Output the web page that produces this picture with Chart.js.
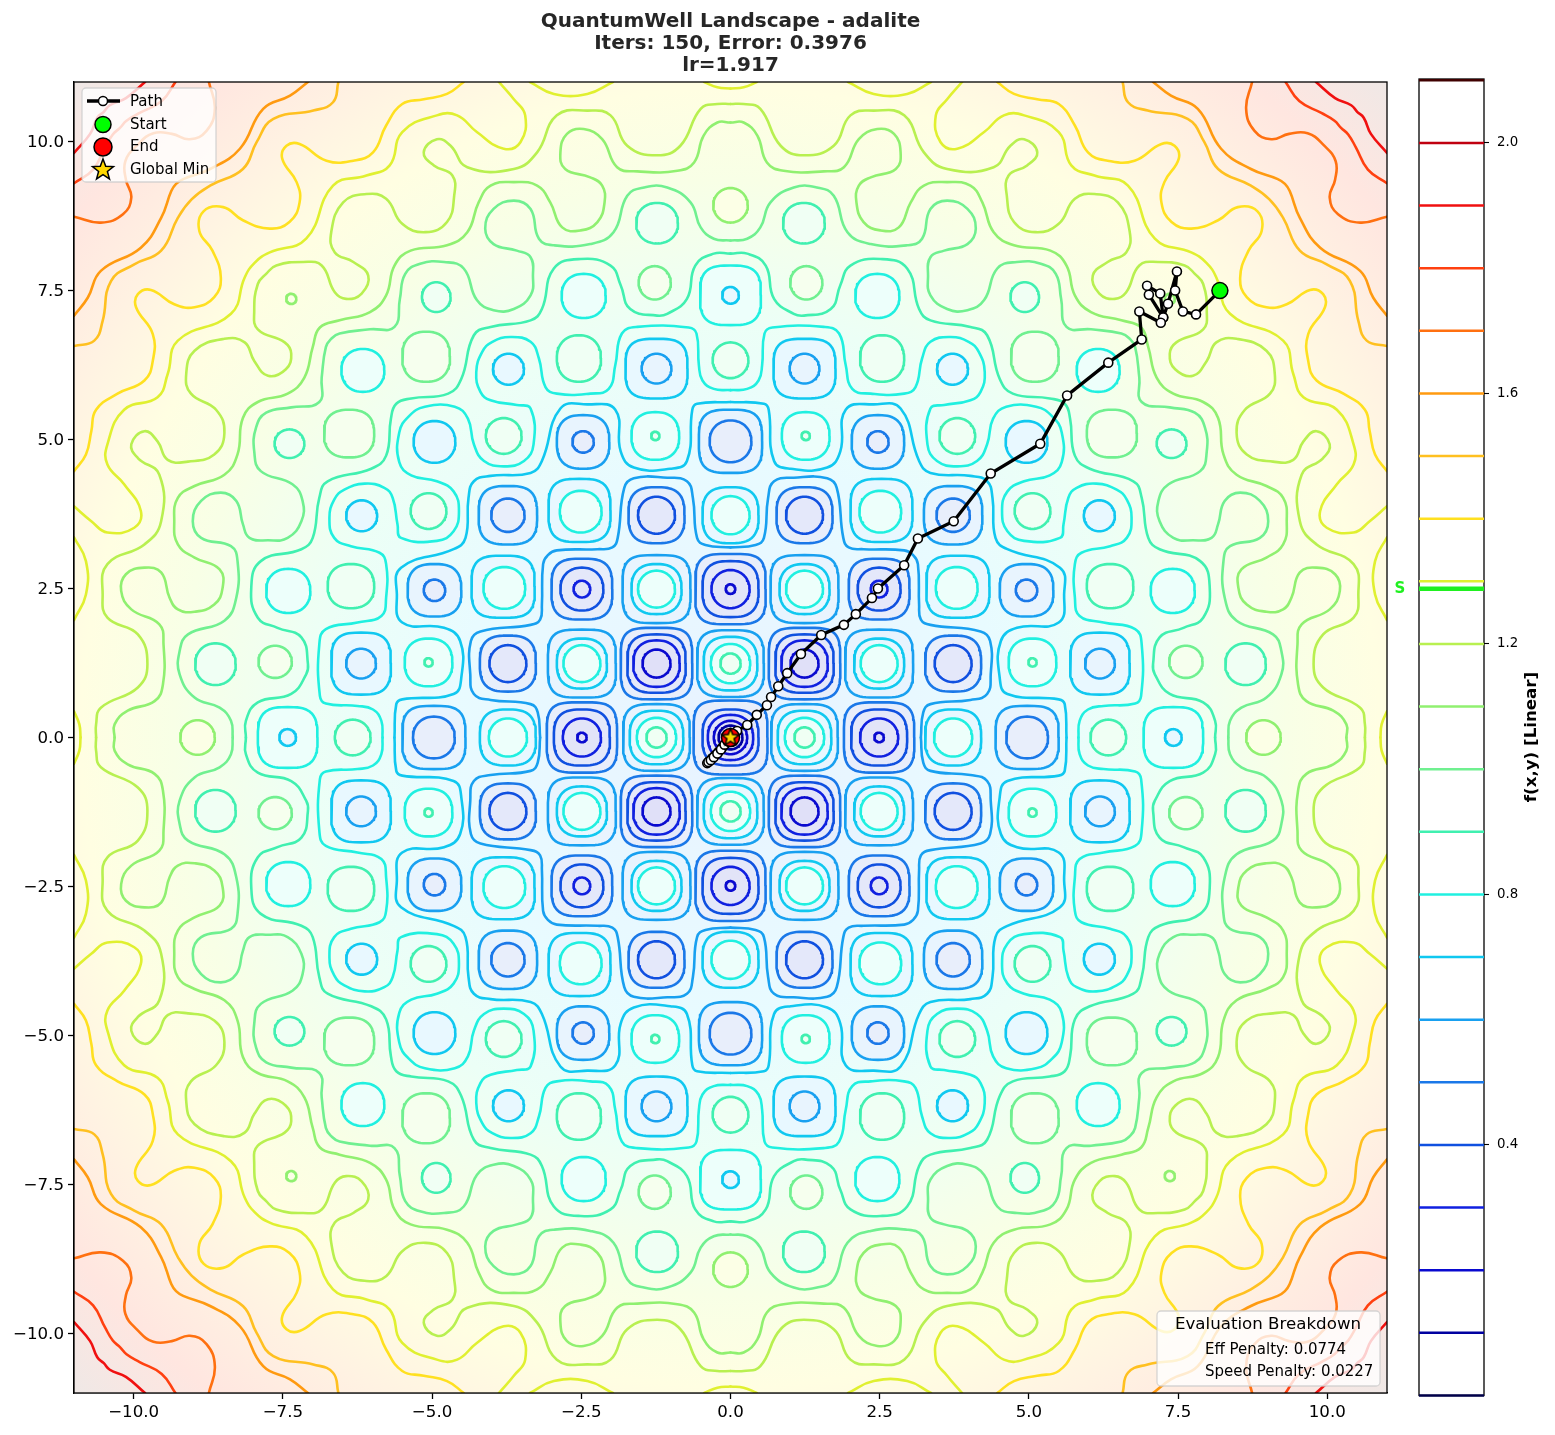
<!DOCTYPE html>
<html>
<head>
<meta charset="utf-8">
<title>QuantumWell Landscape</title>
<script src="https://cdn.jsdelivr.net/npm/chart.js@4/dist/chart.umd.min.js"></script>
<style>
	html, body { margin: 0; padding: 0; background: #fff; }
	#main { position: absolute; left: 0; top: 0; }
	#bar { position: absolute; left: 1390px; top: 0; }
</style>
</head>
<body>
<canvas id="main" width="1555" height="1435"></canvas>
<canvas id="bar" width="165" height="1435"></canvas>
<script>
// contour levels, colour per level (index = level * 10)
const levels = [0, 0.1, 0.2, 0.3, 0.4, 0.5, 0.6, 0.7, 0.8, 0.9, 1.0, 1.1, 1.2, 1.3, 1.4, 1.5, 1.6, 1.7, 1.8, 1.9, 2.0, 2.1];
const levelColors = ['#00004a', '#0000a0', '#0a0acf', '#1020e0', '#1050e0', '#1a78e8', '#18a0f0', '#10c8f0', '#20f0e0', '#40f0b0', '#70f090', '#90f070', '#b8f050', '#e0f030', '#ffe020', '#ffc020', '#ff9a10', '#ff7010', '#ff4010', '#f01010', '#c00010', '#400000'];
const levelTints = ['#dcdcf8', '#dcdcf8', '#e0e0f8', '#e2e4f8', '#e4e8fa', '#e8eefb', '#e8f4fe', '#e8f8ff', '#edfffb', '#f0fff4', '#f6ffee', '#fcffe6'];
const barTicks = [0.4, 0.8, 1.2, 1.6, 2.0];
const startValue = 1.288;

const axisTicks = [-10, -7.5, -5, -2.5, 0, 2.5, 5, 7.5, 10];

// closed cells: [cx, cy, half width, half height, level]
const ringCells = [
	[0, 0, .62, .62, .5], [0, 0, .47, .47, .4], [0, 0, .38, .38, .3], [0, 0, .28, .28, .2], [0, 0, .2, .2, .1],
	[1.24, 0, .56, .56, .6], [1.24, 0, .45, .45, .7], [1.24, 0, .33, .33, .8], [1.24, 0, .17, .17, .9],
	[2.49, 0, .59, .59, .5], [2.49, 0, .47, .47, .4], [2.49, 0, .32, .32, .3], [2.49, 0, .08, .08, .2],
	[3.73, 0, .47, .47, .7], [3.73, 0, .32, .32, .8],
	[4.97, 0, .53, .53, .6], [4.97, 0, .35, .35, .5],
	[6.33, 0, .3, .3, .9],
	[7.42, 0, .5, .51, .8], [7.42, 0, .14, .14, .7],
	[8.93, 0, .29, .29, 1.1],
	[1.24, 1.24, .6, .6, .5], [1.24, 1.24, .49, .49, .4], [1.24, 1.24, .39, .39, .3], [1.24, 1.24, .235, .235, .2],
	[2.49, 1.24, .57, .57, .6], [2.49, 1.24, .42, .42, .7], [2.49, 1.24, .31, .31, .8],
	[3.73, 1.24, .47, .47, .5], [3.73, 1.24, .31, .31, .4],
	[5.06, 1.26, .4, .4, .8], [5.06, 1.26, .07, .07, .9],
	[6.19, 1.24, .5, .52, .7], [6.19, 1.24, .25, .25, .6],
	[7.63, 1.27, .28, .27, 1.0],
	[8.63, 1.23, .34, .35, .9],
	[2.49, 2.49, .51, .51, .5], [2.49, 2.49, .36, .36, .4], [2.49, 2.49, .14, .14, .3],
	[3.81, 2.53, .53, .52, .7], [3.79, 2.51, .35, .35, .8],
	[4.96, 2.47, .45, .44, .6], [4.96, 2.47, .18, .18, .5],
	[6.36, 2.54, .39, .37, .9],
	[7.41, 2.46, .37, .37, .8],
	[3.73, 3.73, .49, .49, .6], [3.73, 3.73, .28, .28, .5],
	[5.06, 3.8, .3, .3, .9],
	[6.18, 3.72, .26, .26, .7],
	[4.96, 4.96, .35, .35, .7],
	[6.39, 5.1, .42, .4, 1.0],
	[7.39, 4.93, .25, .24, .9],
	[6.16, 6.16, .36, .36, .8],
	[7.36, 7.36, .085, .085, 1.1]
];

// wandering contours, x-axis (or frame) to the diagonal
const line06 = [[3.19,0],[3.23,.42],[3.35,.56],[4.02,.63],[4.3,.73],[4.36,1.06],[4.35,1.62],[4.19,1.78],[3.35,1.89],[3.19,1.98],[3.16,2.23],[3.14,2.91],[3.06,3.06]];
const line07 = [[5.63,0],[5.6,.56],[5.5,.64],[4.64,.73],[4.51,1.01],[4.53,1.62],[4.8,1.84],[5.5,1.93],[5.59,2.4],[5.52,2.85],[4.64,3.16],[4.44,3.35],[4.39,4.02],[4.3,4.3]];
const line08 = [[5.83,0],[5.85,.28],[5.99,.47],[6.25,.53],[6.78,.57],[6.88,.7],[6.89,1.56],[6.78,1.82],[6.25,1.93],[5.85,2.04],[5.77,2.35],[5.77,2.91],[5.88,3.1],[6.36,3.21],[6.64,3.35],[6.72,3.69],[6.64,3.99],[6.47,4.16],[6.13,4.26],[5.8,4.19],[5.66,4.02],[5.58,3.58],[5.52,3.35],[4.92,3.3],[4.64,3.46],[4.55,3.8],[4.64,4.13],[4.92,4.3],[5.35,4.4],[5.55,4.62],[5.55,5.12],[5.39,5.39]];
const line09 = [[8.12,0],[8.12,.28],[7.92,.59],[7.36,.73],[7.11,1.06],[7.08,1.23],[7.19,1.68],[7.59,1.84],[7.92,2.01],[8.03,2.51],[7.87,2.96],[7.19,3.16],[7,3.35],[6.89,4.02],[6.75,4.3],[6.02,4.51],[5.77,4.73],[5.69,5.35],[5.6,5.6]];
const line10 = [[8.34,0],[8.37,.28],[8.56,.5],[8.98,.67],[9.23,1.06],[9.23,1.45],[9.09,1.73],[8.48,1.96],[8.28,2.35],[8.26,2.96],[8.37,3.21],[8.87,3.35],[9.01,3.63],[8.87,3.97],[8.54,4.11],[8.28,3.97],[8.17,3.58],[8.06,3.35],[7.75,3.31],[7.42,3.35],[7.19,3.63],[7.17,3.97],[7.34,4.25],[7.87,4.47],[7.98,4.8],[7.95,5.2],[7.78,5.45],[7.36,5.54],[6.89,5.63],[6.85,6.04],[6.78,6.55],[6.69,6.69]];
const line11 = [[10.32,0],[10.32,.22],[10.1,.45],[9.65,.61],[9.51,.89],[9.5,1.56],[9.57,1.9],[10.04,2.15],[10.21,2.46],[10.13,2.74],[9.82,2.85],[9.54,2.77],[9.4,2.35],[9.26,2.15],[8.98,2.11],[8.65,2.23],[8.51,2.51],[8.56,2.82],[8.98,3.02],[9.26,3.24],[9.32,3.63],[9.26,4.02],[8.98,4.22],[8.48,4.41],[8.26,4.75],[8.17,5.36],[7.92,5.63],[7.42,5.77],[7.14,6.04],[7,6.55],[6.88,6.88]];
const line12 = [[10.63,0],[10.63,.22],[10.55,.5],[9.93,.84],[9.77,1.23],[9.93,1.73],[10.44,2.01],[10.52,2.4],[10.44,2.91],[9.82,3.24],[9.54,3.63],[9.57,4.41],[9.93,4.69],[10.04,4.92],[9.82,5.14],[9.6,4.97],[9.43,4.66],[9.09,4.63],[8.65,4.75],[8.48,5.11],[8.62,5.5],[9.04,5.77],[9.12,6.1],[8.98,6.49],[8.48,6.69],[8.14,6.63],[7.98,6.32],[7.75,6.07],[7.45,6.18],[7.36,6.44],[7.47,6.63],[7.92,6.85],[7.98,7.16],[7.92,7.61],[7.78,7.78]];
const line13 = [[11,3.88],[10.71,3.63],[10.44,3.44],[9.99,3.52],[9.88,3.8],[10.16,4.25],[10.44,4.58],[10.44,4.92],[10.16,5.5],[9.6,5.71],[9.43,6.1],[9.26,6.66],[8.37,7.11],[8.14,7.72],[7.97,7.97]];
const line14 = [[11,4.47],[10.8,4.75],[10.71,5.14],[10.63,5.5],[10.27,5.77],[9.82,5.99],[9.68,6.32],[9.68,6.77],[9.96,7.22],[9.93,7.44],[9.71,7.51],[9.32,7.27],[8.98,7.22],[8.65,7.39],[8.54,7.72],[8.68,8.17],[8.9,8.5],[8.83,8.83]];
const line15 = [[11,6.57],[10.66,6.66],[10.52,6.99],[10.38,7.66],[9.99,7.94],[9.54,8.17],[9.26,8.72],[9.03,9.03]];
const line16 = [[11,7.08],[10.77,7.38],[10.55,7.83],[9.88,8.22],[9.54,8.72],[9.37,9.17],[9.29,9.29]];
const line17 = [[11,8.74],[10.55,8.64],[10.18,8.78],[10.04,9.06],[10.13,9.36],[10.14,9.67],[9.94,9.94]];
const line18 = [[11,9.3],[10.68,9.53],[10.48,9.9],[10.35,10.12],[10.23,10.23]];
const line19 = [[11,9.81],[10.73,10.13],[10.61,10.4],[10.5,10.5]];
const wanderingLines = [[.6, line06], [.7, line07], [.8, line08], [.9, line09], [1.0, line10], [1.1, line11], [1.2, line12], [1.3, line13], [1.4, line14], [1.5, line15], [1.6, line16], [1.7, line17], [1.8, line18], [1.9, line19]];

// short arcs that enter and leave through the frame, level 1.3
const edgeArc1 = [[10.89,0],[10.91,.22],[11,.44]];
const edgeArc2 = [[11,1.97],[10.8,2.4],[10.8,2.96],[11,3.36]];

// optimizer path
const pathX = [8.2, 7.8, 7.58, 7.45, 7.48, 7.33, 7.25, 7.01, 6.98, 7.2, 7.25, 7.21, 6.85, 6.89, 6.33, 5.64, 5.19, 4.36, 3.74, 3.14, 2.91, 2.47, 2.37, 2.1, 1.9, 1.52, 1.18, .95, .8, .68, .61, .44, .28, .11, -.03, -.08, -.14, -.2, -.26, -.31, -.36, -.39, -.37, -.33, -.28, -.22, -.16, -.1, -.05, 0];
const pathY = [7.5, 7.1, 7.15, 7.5, 7.82, 7.28, 7.05, 7.43, 7.58, 7.45, 7.05, 6.96, 7.15, 6.68, 6.29, 5.74, 4.93, 4.43, 3.63, 3.34, 2.89, 2.5, 2.34, 2.07, 1.89, 1.72, 1.4, 1.08, .86, .68, .54, .38, .21, .11, -.05, -.1, -.17, -.24, -.3, -.35, -.4, -.43, -.41, -.38, -.33, -.27, -.2, -.12, -.06, 0];

const titleLines = ['QuantumWell Landscape - adalite', 'Iters: 150, Error: 0.3976', 'lr=1.917'];
const legendLabels = ['Path', 'Start', 'End', 'Global Min'];
const evalTitle = 'Evaluation Breakdown';
const evalLines = ['Eff Penalty: 0.0774', 'Speed Penalty: 0.0227'];

Chart.defaults.font.family = "'DejaVu Sans', sans-serif";
Chart.defaults.color = '#000';

function colorOf(level) { return levelColors[Math.round(level * 10)]; }
function tintOf(level) { return levelTints[Math.round(level * 10)]; }

function toPoints(list) { return list.map(p => ({ x: p[0], y: p[1] })); }

function flipDiagonal(list) { return list.map(p => [p[1], p[0]]); }

// one closed rounded outline around a cell, bigger cells are squarer
function ringOutline(cx, cy, hw, hh) {
	const n = 2 + Math.pow(Math.max(0, hw - 0.3) / 0.3, 1.5) * 2;
	const pts = [];
	for (let k = 0; k <= 72; k++) {
		const a = k / 72 * Math.PI * 2;
		const c = Math.cos(a), s = Math.sin(a);
		pts.push([cx + hw * Math.sign(c) * Math.pow(Math.abs(c), 2 / n), cy + hh * Math.sign(s) * Math.pow(Math.abs(s), 2 / n)]);
	}
	return pts;
}

function lineDataset(list, level, smooth) {
	return {
		data: toPoints(list), showLine: true, pointRadius: 0, pointHitRadius: 0,
		borderColor: colorOf(level), borderWidth: 2.6, tension: smooth ? 0.45 : 0, fill: false,
		borderJoinStyle: 'round', borderCapStyle: 'round'
	};
}

function starImage(r) {
	const c = document.createElement('canvas');
	c.width = c.height = r * 2 + 4;
	const ctx = c.getContext('2d');
	drawStar(ctx, r + 2, r + 2, r);
	return c;
}

function drawStar(ctx, x, y, r) {
	ctx.beginPath();
	for (let k = 0; k < 10; k++) {
		const rad = k % 2 ? r * 0.42 : r;
		const a = -Math.PI / 2 + k * Math.PI / 5;
		ctx.lineTo(x + rad * Math.cos(a), y + rad * Math.sin(a));
	}
	ctx.closePath();
	ctx.fillStyle = '#ffd700';
	ctx.strokeStyle = '#000';
	ctx.lineWidth = 1.5;
	ctx.fill();
	ctx.stroke();
}

function mirrored(list) {
	return [[1, 1], [-1, 1], [1, -1], [-1, -1]].map(s => list.map(p => [p[0] * s[0], p[1] * s[1]]));
}

function buildContours() {
	const bottom = [];
	wanderingLines.forEach(([level, octant]) => {
		const quadrant = octant.concat(flipDiagonal(octant).reverse().slice(1));
		mirrored(quadrant).forEach(l => bottom.push(lineDataset(l, level, true)));
	});
	[edgeArc1, edgeArc2].forEach(arc => {
		mirrored(arc).concat(mirrored(flipDiagonal(arc))).forEach(l => bottom.push(lineDataset(l, 1.3, true)));
	});

	const seen = new Set();
	const rings = [];
	ringCells.forEach(([cx, cy, hw, hh, level]) => {
		[[cx, cy, hw, hh], [cy, cx, hh, hw]].forEach(([x, y, w, h]) => {
			[[1, 1], [-1, 1], [1, -1], [-1, -1]].forEach(s => {
				const key = [Math.abs(x) ? x * s[0] : 0, Math.abs(y) ? y * s[1] : 0, w, h, level].join();
				if (seen.has(key)) return;
				seen.add(key);
				rings.push({ x: x * s[0], y: y * s[1], w, h, level });
			});
		});
	});
	rings.sort((a, b) => b.w - a.w);
	rings.forEach(r => {
		const ds = lineDataset(ringOutline(r.x, r.y, r.w, r.h), r.level, false);
		ds.fill = 'shape';
		ds.backgroundColor = tintOf(r.level);
		bottom.push(ds);
	});
	// chart.js paints the first dataset last
	return bottom.reverse();
}

const landscapeBackground = {
	id: 'landscapeBackground',
	beforeDatasetsDraw(chart) {
		const { ctx, chartArea: a } = chart;
		const cx = (a.left + a.right) / 2, cy = (a.top + a.bottom) / 2;
		const g = ctx.createRadialGradient(cx, cy, 0, cx, cy, 928);
		g.addColorStop(0, '#e8f2ff');
		g.addColorStop(0.3, '#e8fbff');
		g.addColorStop(0.45, '#ecfff6');
		g.addColorStop(0.6, '#f8ffe6');
		g.addColorStop(0.7, '#fffee2');
		g.addColorStop(0.8, '#fff2e2');
		g.addColorStop(0.9, '#ffe6e0');
		g.addColorStop(1, '#efe8e6');
		ctx.save();
		ctx.fillStyle = g;
		ctx.fillRect(a.left, a.top, a.right - a.left, a.bottom - a.top);
		ctx.restore();
	}
};

function roundBox(ctx, x, y, w, h) {
	ctx.beginPath();
	ctx.roundRect(x, y, w, h, 4);
	ctx.fillStyle = 'rgba(255,255,255,0.8)';
	ctx.strokeStyle = 'rgba(204,204,204,0.8)';
	ctx.lineWidth = 1.3;
	ctx.fill();
	ctx.stroke();
}

const landscapeOverlay = {
	id: 'landscapeOverlay',
	afterDraw(chart) {
		const { ctx, chartArea: a } = chart;
		ctx.save();
		ctx.strokeStyle = '#000';
		ctx.lineWidth = 1.3;
		ctx.strokeRect(a.left, a.top, a.right - a.left, a.bottom - a.top);

		// legend
		roundBox(ctx, 82, 88, 134, 94);
		const rows = [102, 125, 147, 170];
		ctx.fillStyle = '#000';
		ctx.font = "15px 'DejaVu Sans'";
		ctx.textBaseline = 'middle';
		ctx.textAlign = 'left';
		legendLabels.forEach((t, i) => ctx.fillText(t, 130, rows[i]));
		ctx.strokeStyle = '#000';
		ctx.lineWidth = 3.3;
		ctx.beginPath();
		ctx.moveTo(87, 101);
		ctx.lineTo(120, 101);
		ctx.stroke();
		const dot = (y, r, fill) => {
			ctx.beginPath();
			ctx.arc(103, y, r, 0, Math.PI * 2);
			ctx.fillStyle = fill;
			ctx.lineWidth = 1.5;
			ctx.strokeStyle = '#000';
			ctx.fill();
			ctx.stroke();
		};
		dot(101, 4.5, '#fff');
		dot(124.5, 8, '#00ff00');
		dot(147, 9, '#ff0000');
		drawStar(ctx, 103, 170, 11);

		// evaluation box
		roundBox(ctx, 1157, 1311, 223, 75);
		ctx.fillStyle = '#000';
		ctx.font = "16.67px 'DejaVu Sans'";
		ctx.textAlign = 'center';
		ctx.fillText(evalTitle, 1268, 1325);
		ctx.font = "15px 'DejaVu Sans'";
		ctx.textAlign = 'left';
		ctx.fillText(evalLines[0], 1205, 1350);
		ctx.fillText(evalLines[1], 1205, 1372);
		ctx.restore();
	}
};

function tickText(v) {
	return (v < 0 ? '\u2212' : '') + Math.abs(v).toFixed(1);
}

function mainScale(fit, shift) {
	return {
		type: 'linear', min: -11, max: 11,
		afterBuildTicks: s => { s.ticks = axisTicks.map(v => ({ value: v })); },
		afterFit: fit,
		border: { color: '#000', width: 1.3 },
		grid: { drawOnChartArea: false, drawTicks: true, tickLength: 6, tickColor: '#000', tickWidth: 1.3 },
		ticks: { autoSkip: false, maxRotation: 0, padding: 4, labelOffset: shift, color: '#000', font: { size: 16.67 }, callback: tickText }
	};
}

const pathPoints = pathX.map((x, i) => ({ x, y: pathY[i] }));

new Chart(document.getElementById('main'), {
	type: 'scatter',
	data: {
		datasets: [
			{ data: [{ x: 0, y: 0 }], pointStyle: starImage(9), pointRadius: 9 },
			{ data: [pathPoints[pathPoints.length - 1]], pointRadius: 9, backgroundColor: '#ff0000', borderColor: '#000', borderWidth: 1.5 },
			{ data: [pathPoints[0]], pointRadius: 8, backgroundColor: '#00ff00', borderColor: '#000', borderWidth: 1.5 },
			{
				data: pathPoints, showLine: true, borderColor: '#000', borderWidth: 3.3, tension: 0,
				pointRadius: 4.5, pointBackgroundColor: '#fff', pointBorderColor: '#000', pointBorderWidth: 1.6
			},
			...buildContours()
		]
	},
	options: {
		responsive: false,
		animation: false,
		devicePixelRatio: 1,
		events: [],
		layout: { padding: { left: 0, right: 168, top: 0, bottom: 0 } },
		scales: {
			x: mainScale(s => { s.height = 42; }, 0),
			y: mainScale(s => { s.width = 74; }, 1.5)
		},
		plugins: {
			legend: { display: false },
			tooltip: { enabled: false },
			title: {
				display: true, fullSize: false, text: titleLines, color: '#262626',
				font: { size: 20, weight: 'bold', lineHeight: 1.1 }, padding: { top: 11, bottom: 5 }
			}
		}
	},
	plugins: [landscapeBackground, landscapeOverlay]
});

const barFrame = {
	id: 'barFrame',
	beforeDatasetsDraw(chart) {
		const { ctx, chartArea: a } = chart;
		ctx.save();
		ctx.strokeStyle = '#000';
		ctx.lineWidth = 1.3;
		ctx.strokeRect(a.left, a.top, a.right - a.left, a.bottom - a.top);
		ctx.restore();
	},
	afterDraw(chart) {
		const { ctx, scales } = chart;
		ctx.save();
		ctx.fillStyle = '#20f020';
		ctx.font = "bold 15px 'DejaVu Sans'";
		ctx.textAlign = 'center';
		ctx.textBaseline = 'middle';
		ctx.fillText('S', 10, scales.y.getPixelForValue(startValue));
		ctx.fillStyle = '#000';
		ctx.font = "bold 16.67px 'DejaVu Sans'";
		ctx.translate(142, 737);
		ctx.rotate(-Math.PI / 2);
		ctx.fillText('f(x,y) [Linear]', 0, 0);
		ctx.restore();
	}
};

const barLine = (value, color, width) => ({
	data: [{ x: 0, y: value }, { x: 1, y: value }], showLine: true, pointRadius: 0,
	borderColor: color, borderWidth: width, clip: false
});

new Chart(document.getElementById('bar'), {
	type: 'scatter',
	data: {
		datasets: [
			barLine(startValue, '#20f020', 4.5),
			...levels.map((v, i) => barLine(v, levelColors[i], 2.5))
		]
	},
	options: {
		responsive: false,
		animation: false,
		devicePixelRatio: 1,
		events: [],
		layout: { padding: { left: 29, right: 0, top: 79, bottom: 39.5 } },
		scales: {
			x: { type: 'linear', min: 0, max: 1, display: false },
			y: {
				type: 'linear', min: 0, max: 2.102, position: 'right',
				afterBuildTicks: s => { s.ticks = barTicks.map(v => ({ value: v })); },
				afterFit: s => { s.width = 71; },
				border: { display: false },
				grid: { drawOnChartArea: false, drawTicks: true, tickLength: 5, tickColor: '#000', tickWidth: 1.1 },
				ticks: { autoSkip: false, padding: 8, color: '#000', font: { size: 13.33 }, callback: v => v.toFixed(1) }
			}
		},
		plugins: { legend: { display: false }, tooltip: { enabled: false } }
	},
	plugins: [barFrame]
});
</script>
</body>
</html>
